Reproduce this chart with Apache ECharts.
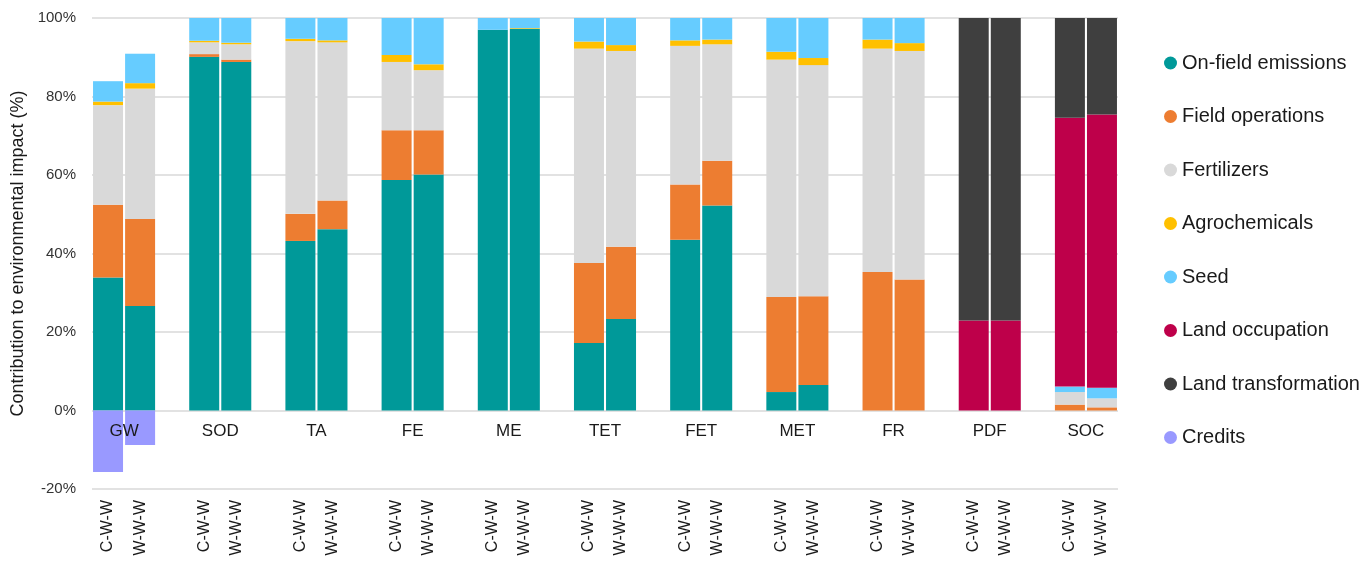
<!DOCTYPE html>
<html>
<head>
<meta charset="utf-8">
<script src="https://cdn.jsdelivr.net/npm/echarts@6/dist/echarts.min.js"></script>
<style>
  html, body { margin: 0; padding: 0; background: #ffffff; }
  #chart { width: 1366px; height: 562px; }
</style>
</head>
<body>
<div id="chart"></div>
<script>
// Impact categories and the two crop rotations shown for each of them
const impactCategories = ['GW', 'SOD', 'TA', 'FE', 'ME', 'TET', 'FET', 'MET', 'FR', 'PDF', 'SOC'];
const rotations = ['C-W-W', 'W-W-W'];

// Contribution of each source (%), pairs per category: [C-W-W, W-W-W]
const onFieldEmissions = [33.9, 26.6, 90.1, 88.8, 43.2, 46.2, 58.7, 60.1, 97.0, 97.2, 17.2, 23.3, 43.5, 52.2, 4.7, 6.5, 0, 0, 0, 0, 0, 0];
const fieldOperations  = [18.5, 22.2, 0.7, 0.6, 6.9, 7.3, 12.7, 11.3, 0, 0, 20.4, 18.4, 14.1, 11.4, 24.2, 22.6, 35.3, 33.4, 0, 0, 1.5, 0.8];
const fertilizers      = [25.4, 33.2, 3.0, 3.9, 44.0, 40.3, 17.4, 15.3, 0, 0, 54.6, 49.9, 35.3, 29.7, 60.5, 58.9, 56.9, 58.2, 0, 0, 3.2, 2.3];
const agrochemicals    = [0.9, 1.4, 0.4, 0.4, 0.6, 0.5, 1.8, 1.5, 0, 0.2, 1.8, 1.5, 1.4, 1.2, 2.0, 1.8, 2.3, 2.0, 0, 0, 0, 0];
const seed             = [5.2, 7.5, 5.8, 6.3, 5.3, 5.7, 9.4, 11.8, 3.0, 2.6, 6.0, 6.9, 5.7, 5.5, 8.6, 10.2, 5.5, 6.4, 0, 0, 1.4, 2.7];
const landOccupation   = [0, 0, 0, 0, 0, 0, 0, 0, 0, 0, 0, 0, 0, 0, 0, 0, 0, 0, 22.9, 22.9, 68.5, 69.6];
const landTransform    = [0, 0, 0, 0, 0, 0, 0, 0, 0, 0, 0, 0, 0, 0, 0, 0, 0, 0, 77.1, 77.1, 25.4, 24.6];
const credits          = [-15.7, -8.8, 0, 0, 0, 0, 0, 0, 0, 0, 0, 0, 0, 0, 0, 0, 0, 0, 0, 0, 0, 0];

const yTicks = { min: -20, max: 100, step: 20 };

// Category slots: two bars per impact category, one empty slot between groups
const slots = [];
impactCategories.forEach((g, i) => {
  rotations.forEach(r => slots.push(r));
  if (i < impactCategories.length - 1) slots.push('');
});

function spread(values) {
  const out = [];
  impactCategories.forEach((g, i) => {
    rotations.forEach((r, j) => {
      const v = values[i * rotations.length + j];
      out.push(v === 0 ? null : v);
    });
    if (i < impactCategories.length - 1) out.push(null);
  });
  return out;
}

const seriesDefs = [
  ['On-field emissions', onFieldEmissions, '#009999'],
  ['Field operations', fieldOperations, '#ED7D31'],
  ['Fertilizers', fertilizers, '#D9D9D9'],
  ['Agrochemicals', agrochemicals, '#FFC000'],
  ['Seed', seed, '#66CCFF'],
  ['Land occupation', landOccupation, '#BE004A'],
  ['Land transformation', landTransform, '#3F3F3F'],
  ['Credits', credits, '#9999FF']
];

const fontFamily = '"Liberation Sans", Arial, Helvetica, sans-serif';
const chart = echarts.init(document.getElementById('chart'), null, { renderer: 'canvas' });

chart.setOption({
  animation: false,
  backgroundColor: '#ffffff',
  textStyle: { fontFamily: fontFamily },
  grid: { left: 92, right: 248, top: 18, bottom: 73, containLabel: false },
  legend: {
    orient: 'vertical',
    left: 1159,
    top: 48,
    itemWidth: 13,
    itemHeight: 13,
    itemGap: 33.5,
    icon: 'circle',
    textStyle: { fontSize: 20, color: '#1a1a1a', fontFamily: fontFamily },
    data: seriesDefs.map(d => d[0])
  },
  xAxis: [
    {
      type: 'category',
      data: slots,
      position: 'bottom',
      axisLine: { show: false },
      axisTick: { show: false },
      axisLabel: {
        interval: 0,
        rotate: 90,
        margin: 11,
        fontSize: 16,
        color: '#1a1a1a',
        fontFamily: fontFamily
      }
    },
    {
      // impact category names centred under each pair of bars, on the 0% line
      type: 'value',
      min: 0,
      max: slots.length,
      interval: 1,
      position: 'bottom',
      offset: -79,
      z: 10,
      axisLine: { show: false },
      axisTick: { show: false },
      splitLine: { show: false },
      axisLabel: {
        margin: 13,
        fontSize: 17,
        color: '#1a1a1a',
        fontFamily: fontFamily,
        showMinLabel: true,
        showMaxLabel: true,
        formatter: function (v) {
          const k = v - 1;
          if (k % 3 !== 0 || k < 0) return '';
          return impactCategories[k / 3] || '';
        }
      }
    }
  ],
  yAxis: {
    type: 'value',
    min: yTicks.min,
    max: yTicks.max,
    interval: yTicks.step,
    name: 'Contribution to environmental impact (%)',
    nameLocation: 'middle',
    nameGap: 62,
    nameTextStyle: { fontSize: 18, color: '#1a1a1a', fontFamily: fontFamily },
    axisLine: { show: false },
    axisTick: { show: false },
    axisLabel: {
      formatter: '{value}%',
      margin: 16,
      fontSize: 15,
      color: '#333333',
      fontFamily: fontFamily
    },
    splitLine: { lineStyle: { color: '#D9D9D9', width: 1.5 } }
  },
  series: seriesDefs.map(([name, values, color]) => ({
    name: name,
    type: 'bar',
    stack: 'total',
    xAxisIndex: 0,
    barWidth: 30,
    itemStyle: { color: color },
    emphasis: { disabled: true },
    data: spread(values)
  }))
});
</script>
</body>
</html>
